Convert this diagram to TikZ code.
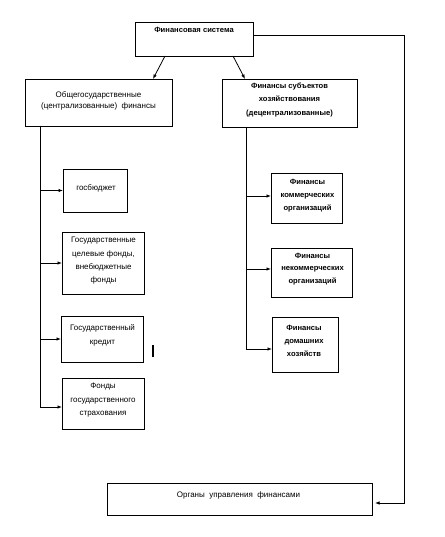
\documentclass[tikz,border=0pt]{standalone}
\usepackage{fontspec}
\setmainfont{Liberation Sans}
\usetikzlibrary{arrows.meta}
\tikzset{
  box/.style={draw, line width=0.8pt, inner sep=0pt, outer sep=0pt},
  lbl/.style={anchor=north, inner sep=0pt, align=center, font=\fontsize{8}{13.5}\selectfont},
  blbl/.style={lbl, font=\fontsize{7.6}{13.5}\selectfont\bfseries},
  conn/.style={line width=0.8pt},
  arr/.style={conn, -{Latex[length=4.5pt,width=3.5pt]}},
}
\begin{document}
\begin{tikzpicture}[x=1pt,y=-1pt]
\useasboundingbox (0,0) rectangle (444,537);
% boxes
\node[box, minimum width=118pt, minimum height=34pt] (fs) at (194,39) {};
\node[box, minimum width=147pt, minimum height=47pt] (lb) at (98.5,102.5) {};
\node[box, minimum width=135pt, minimum height=48pt] (rb) at (289.5,103) {};
\node[box, minimum width=64pt, minimum height=43pt] (gb) at (95,190.5) {};
\node[box, minimum width=82pt, minimum height=62pt] (tf) at (103,263) {};
\node[box, minimum width=82pt, minimum height=46pt] (kr) at (102,339) {};
\node[box, minimum width=82pt, minimum height=51pt] (fo) at (103,403.5) {};
\node[box, minimum width=71pt, minimum height=50pt] (km) at (306.5,198) {};
\node[box, minimum width=81pt, minimum height=49pt] (nk) at (311.5,272.5) {};
\node[box, minimum width=66pt, minimum height=55pt] (dm) at (305,344.5) {};
\node[box, minimum width=265pt, minimum height=32pt] (ou) at (239.5,499) {};
% texts
\node[blbl] (tfs) at (194,27.5) {Финансовая система};
\node[lbl, font=\fontsize{8}{11}\selectfont] (tlb) at (98.5,91) {Общегосударственные\\(централизованные) \ финансы};
\node[blbl] (trb) at (289.5,82.5) {Финансы субъектов\\хозяйствования\\(децентрализованные)};
\node[lbl] (tgb) at (96,184) {госбюджет};
\node[lbl, font=\fontsize{8}{13.3}\selectfont] (ttf) at (103.5,237) {Государственные\\целевые фонды,\\внебюджетные\\фонды};
\node[lbl, font=\fontsize{8}{14}\selectfont] (tkr) at (102.5,324) {Государственный\\кредит};
\node[lbl] (tfo) at (103,383) {Фонды\\государственного\\страхования};
\node[blbl, font=\fontsize{7.6}{13}\selectfont\bfseries] (tkm) at (307.5,179) {Финансы\\коммерческих\\организаций};
\node[blbl, font=\fontsize{7.6}{12.5}\selectfont\bfseries] (tnk) at (312.5,253) {Финансы\\некоммерческих\\организаций};
\node[blbl, font=\fontsize{7.6}{13}\selectfont\bfseries] (tdm) at (304,325) {Финансы\\домашних\\хозяйств};
\node[lbl] (tou) at (238.5,491.5) {Органы \ управления \ финансами};
% connectors
\draw[arr] ([xshift=-29pt]fs.south) -- ([xshift=54.5pt]lb.north);
\draw[arr] ([xshift=39pt]fs.south) -- ([xshift=-44.5pt]rb.north);
\draw[arr] ([yshift=4pt]fs.east) -| ([xshift=32pt,yshift=-4pt]ou.east) -- ([xshift=3pt,yshift=-4pt]ou.east);
\coordinate (lt) at ([xshift=15pt]lb.south west);
\draw[arr] (lt) |- (gb.west);
\draw[arr] (lt) |- (tf.west);
\draw[arr] (lt) |- (kr.west);
\draw[arr] (lt) |- ([yshift=-3.5pt]fo.west);
\coordinate (rt) at ([xshift=24pt]rb.south west);
\draw[arr] (rt) |- ([yshift=2pt]km.west);
\draw[arr] (rt) |- ([yshift=3.5pt]nk.west);
\draw[arr] (rt) |- ([yshift=-4.5pt]dm.west);
% stray mark
\draw[line width=1.5pt] (153,345) -- (153,357);
\end{tikzpicture}
\end{document}
